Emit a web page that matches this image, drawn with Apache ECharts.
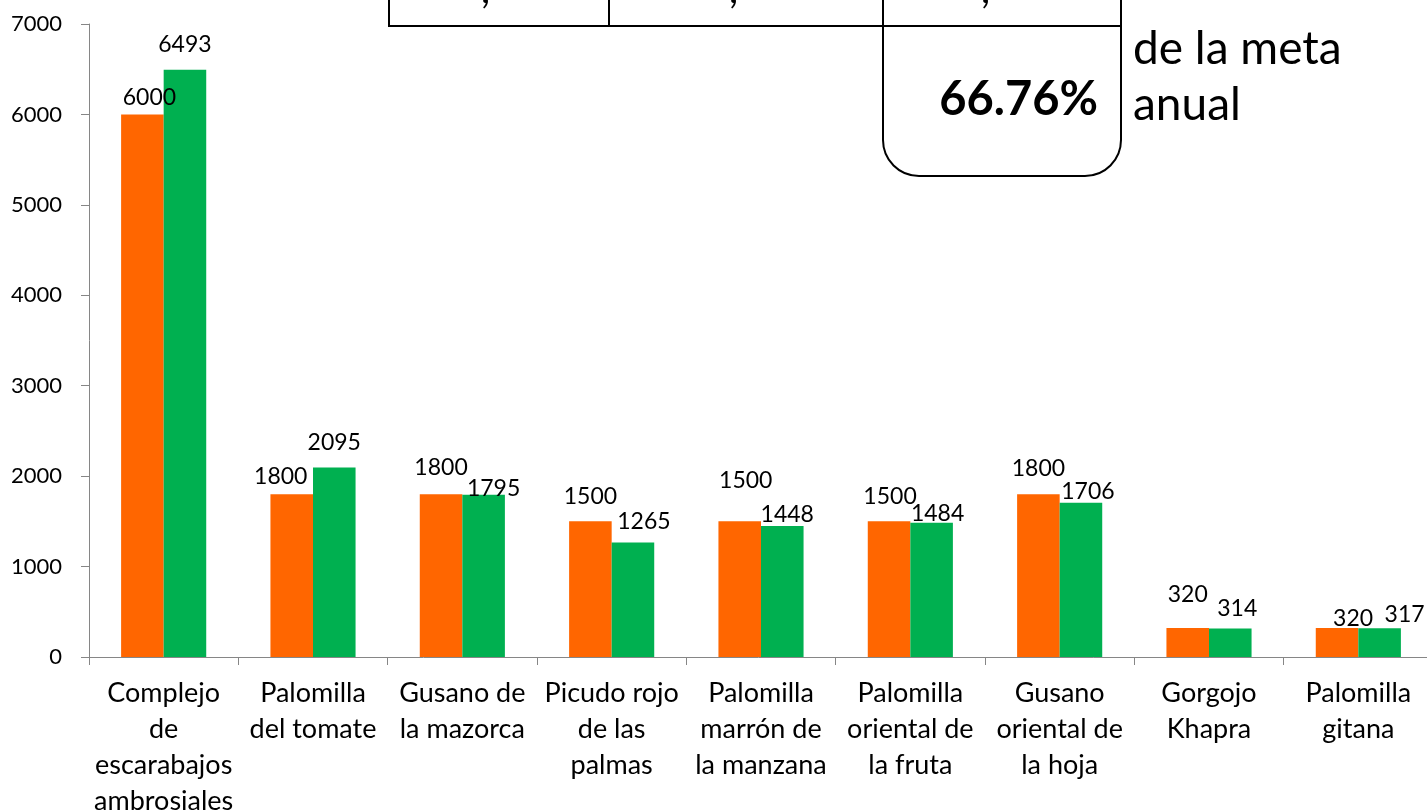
<!DOCTYPE html>
<html lang="es">
<head>
  <meta charset="UTF-8">
  <title>Meta anual vs avance</title>
  <script src="https://cdn.jsdelivr.net/npm/echarts@6/dist/echarts.min.js"></script>
  <style>
    html, body { margin: 0; padding: 0; background: #fff; }
    #chart { width: 1427px; height: 811px; }
  </style>
</head>
<body>
  <div id="chart"></div>
  <script>
    const categories = [
      'Complejo\nde\nescarabajos\nambrosiales',
      'Palomilla\ndel tomate',
      'Gusano de\nla mazorca',
      'Picudo rojo\nde las\npalmas',
      'Palomilla\nmarrón de\nla manzana',
      'Palomilla\noriental de\nla fruta',
      'Gusano\noriental de\nla hoja',
      'Gorgojo\nKhapra',
      'Palomilla\ngitana'
    ];
    const metaValues = [6000, 1800, 1800, 1500, 1500, 1500, 1800, 320, 320];
    const avanceValues = [6493, 2095, 1795, 1265, 1448, 1484, 1706, 314, 317];
    const yTicks = [0, 1000, 2000, 3000, 4000, 5000, 6000, 7000];
    const porcentaje = '66.76%';

    // desplazamiento de etiquetas (como en el original, puestas a mano)
    const metaShift = [[7, 0], [-11, -1], [0, -10], [0, -8], [6, -24], [1, -8], [0, -9], [0, -17], [16, 7]];
    const avanceShift = [[0, -9], [0, -8], [10, 10], [11, -5], [5, 5], [6, 7], [7, 5], [7, -4], [25, 3]];

    const font = 'Lato, "Open Sans", sans-serif';
    const chart = echarts.init(document.getElementById('chart'));

    function withLabels(values, shifts) {
      return values.map((v, i) => ({ value: v, label: { offset: shifts[i] } }));
    }

    const barLabel = {
      show: true,
      position: 'top',
      distance: 5,
      color: '#000',
      fontSize: 23,
      fontFamily: font
    };

    const line = { stroke: '#000', lineWidth: 2 };

    const option = {
      backgroundColor: '#fff',
      animation: false,
      grid: {
        left: 89, right: -6, top: 24, bottom: 154,
        containLabel: false,
        outerBoundsMode: 'none'
      },
      xAxis: {
        type: 'category',
        data: categories,
        axisLine: { lineStyle: { color: '#868686', width: 1 } },
        axisTick: { show: true, length: 8, lineStyle: { color: '#868686' } },
        axisLabel: {
          interval: 0,
          margin: 18,
          color: '#000',
          fontSize: 27,
          lineHeight: 36,
          fontFamily: font
        }
      },
      yAxis: {
        type: 'value',
        min: yTicks[0],
        max: yTicks[yTicks.length - 1],
        interval: 1000,
        axisLine: { show: true, lineStyle: { color: '#868686', width: 1 } },
        axisTick: { show: true, length: 8, lineStyle: { color: '#868686' } },
        splitLine: { show: false },
        axisLabel: {
          margin: 27,
          color: '#000',
          fontSize: 22,
          fontFamily: font,
          formatter: v => String(v)
        }
      },
      series: [
        {
          name: 'Meta',
          type: 'bar',
          data: withLabels(metaValues, metaShift),
          itemStyle: { color: '#FF6600' },
          barGap: '0%',
          barCategoryGap: '43%',
          label: barLabel
        },
        {
          name: 'Avance',
          type: 'bar',
          data: withLabels(avanceValues, avanceShift),
          itemStyle: { color: '#00B050' },
          label: barLabel
        }
      ],
      graphic: [
        // restos de la tabla cortada arriba
        { type: 'polyline', shape: { points: [[389, 0], [389, 26], [1121, 26], [1121, 0]] }, style: Object.assign({ fill: null }, line), z: 10 },
        { type: 'line', shape: { x1: 609, y1: 0, x2: 609, y2: 26 }, style: line, z: 10 },
        { type: 'line', shape: { x1: 883, y1: 0, x2: 883, y2: 26 }, style: line, z: 10 },
        { type: 'text', left: 481, top: -30, style: { text: ',', fontSize: 40, fontFamily: font, fill: '#000' }, z: 10 },
        { type: 'text', left: 729, top: -30, style: { text: ',', fontSize: 40, fontFamily: font, fill: '#000' }, z: 10 },
        { type: 'text', left: 981, top: -30, style: { text: ',', fontSize: 40, fontFamily: font, fill: '#000' }, z: 10 },
        // recuadro del porcentaje
        {
          type: 'rect',
          shape: { x: 883, y: 26, width: 238, height: 150, r: [0, 0, 36, 36] },
          style: { fill: '#fff', stroke: '#000', lineWidth: 2 },
          z: 10
        },
        {
          type: 'text',
          x: 1098, y: 100,
          style: {
            text: porcentaje, fontSize: 47, fontWeight: 'bold', fontFamily: font,
            fill: '#000', align: 'right', verticalAlign: 'middle'
          },
          z: 11
        },
        {
          type: 'text',
          x: 1133, y: 77,
          style: {
            text: 'de la meta\nanual', fontSize: 46, lineHeight: 56, fontFamily: font,
            fill: '#000', align: 'left', verticalAlign: 'middle'
          },
          z: 11
        }
      ]
    };

    chart.setOption(option);
  </script>
</body>
</html>
